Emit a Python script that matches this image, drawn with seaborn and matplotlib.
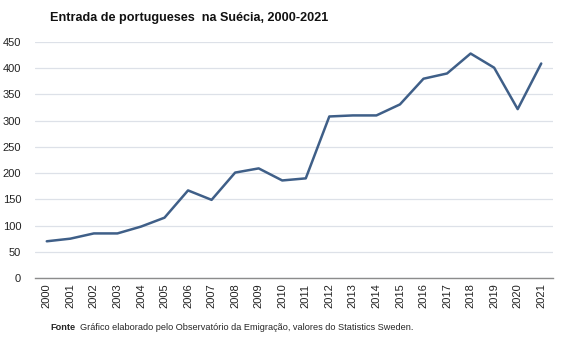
import matplotlib
matplotlib.use("Agg")
import matplotlib.pyplot as plt
import seaborn as sns
import pandas as pd

years = [str(y) for y in range(2000, 2022)]
values = [70, 75, 85, 85, 98, 115, 167, 149, 201, 209, 186, 190,
          308, 310, 310, 331, 380, 390, 428, 401, 322, 409]
yticks = [0, 50, 100, 150, 200, 250, 300, 350, 400, 450]

sns.set_theme(style="white")
plt.rcParams['font.family'] = ['Liberation Sans', 'DejaVu Sans']

df = pd.DataFrame({"ano": years, "valor": values})

fig = plt.figure(figsize=(5.67, 3.40), dpi=100)
ax = fig.add_axes([35/567, 1 - 278/340, (553-35)/567, (278-42)/340])

sns.lineplot(data=df, x="ano", y="valor", ax=ax, color="#3f5f88", linewidth=1.8, sort=False)

ax.set_xlim(-0.5, len(years) - 0.5)
ax.set_ylim(0, 450)
ax.set_yticks(yticks)
ax.set_yticklabels([str(v) for v in yticks], fontsize=8, color="#222222")
ax.set_xticks(range(len(years)))
ax.set_xticklabels(years, rotation=90, fontsize=8, color="#222222")
ax.tick_params(axis="both", length=0, pad=4)
ax.tick_params(axis="y", pad=10)
ax.yaxis.grid(True, color="#dde1e8", linewidth=0.9)
ax.set_axisbelow(True)
for s in ["top", "right", "left"]:
    ax.spines[s].set_visible(False)
ax.spines["bottom"].set_color("#8c8c8c")
ax.spines["bottom"].set_linewidth(1.0)
ax.set_xlabel("")
ax.set_ylabel("")

fig.text(50/567, 1 - 18/340, "Entrada de portugueses  na Suécia, 2000-2021",
         fontsize=9.1, fontweight="bold", va="center", ha="left", color="#111111")
fig.text(50/567, 1 - 327/340, "Fonte", fontsize=6.6, fontweight="bold", va="center", ha="left")
fig.text(80/567, 1 - 327/340,
         "Gráfico elaborado pelo Observatório da Emigração, valores do Statistics Sweden.",
         fontsize=6.6, va="center", ha="left")

fig.savefig("out.png", dpi=100)
